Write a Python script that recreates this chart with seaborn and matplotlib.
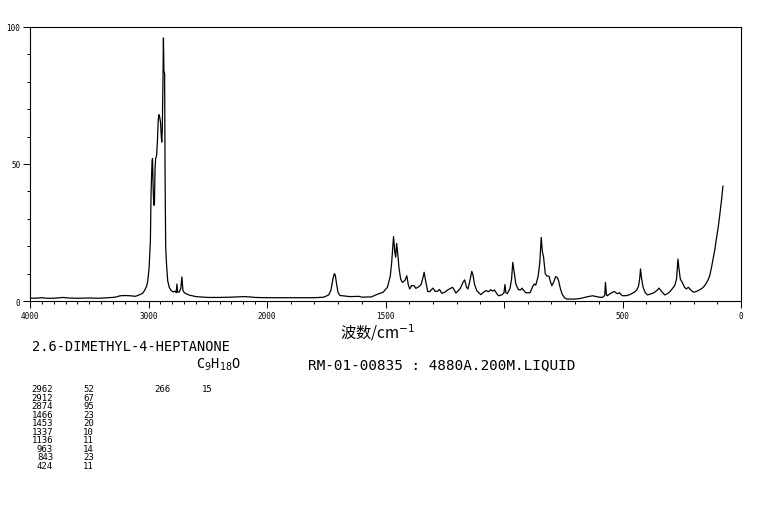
import numpy as np
import pandas as pd
import matplotlib
matplotlib.use("Agg")
import matplotlib.pyplot as plt
import seaborn as sns

# Raman spectrum (cm-1, relative intensity)
wavenumber = [4000, 3960, 3900, 3860, 3800, 3720, 3680, 3600, 3500, 3420, 3340, 3280, 3240, 3200, 3150,
              3110, 3080, 3050, 3034, 3015, 3006, 2995, 2988, 2984, 2978, 2970, 2966, 2960, 2955, 2950,
              2945, 2940, 2932, 2925, 2918, 2912, 2905, 2898, 2892, 2888, 2884, 2878, 2874, 2870, 2864,
              2860, 2855, 2848, 2838, 2825, 2809, 2790, 2775, 2766, 2760, 2754, 2740, 2728, 2718, 2710,
              2698, 2680, 2660, 2640, 2600, 2500, 2400, 2300, 2200, 2150, 2100, 2000, 1900, 1800, 1760,
              1740, 1730, 1722, 1716, 1712, 1706, 1700, 1692, 1680, 1650, 1612, 1600, 1560, 1530, 1510,
              1492, 1480, 1474, 1466, 1461, 1457, 1453, 1448, 1443, 1436, 1429, 1418, 1410, 1404, 1398,
              1390, 1380, 1372, 1360, 1350, 1342, 1337, 1330, 1322, 1314, 1300, 1290, 1280, 1272, 1262,
              1250, 1240, 1228, 1217, 1210, 1203, 1185, 1172, 1166, 1158, 1152, 1145, 1136, 1131, 1124,
              1115, 1098, 1085, 1076, 1065, 1056, 1048, 1040, 1030, 1022, 1008, 1000, 996, 992, 986,
              975, 968, 963, 958, 950, 940, 930, 924, 916, 908, 890, 878, 872, 866, 856,
              849, 843, 838, 833, 826, 820, 810, 804, 798, 790, 782, 776, 770, 762, 755,
              745, 735, 700, 680, 660, 640, 625, 605, 585, 575, 572, 568, 565, 550, 535,
              525, 520, 512, 505, 498, 480, 465, 450, 440, 432, 427, 424, 419, 413, 405,
              395, 380, 370, 355, 346, 338, 330, 322, 310, 300, 290, 280, 272, 266, 262,
              256, 248, 238, 231, 222, 212, 200, 188, 174, 162, 153, 140, 132, 125, 118,
              110, 104, 96, 90, 82, 76]
intensity = [1.1, 1.0, 1.2, 1.0, 1.0, 1.3, 1.1, 1.0, 1.1, 1.0, 1.2, 1.4, 1.9, 2.0, 1.9,
             1.7, 2.2, 2.8, 3.8, 5.5, 7.4, 12, 18, 22, 40, 51, 52, 40, 35, 35,
             48, 52, 53, 58, 66, 68, 67, 65, 60, 58, 62, 80, 96, 84, 83,
             45, 20, 13.5, 7.4, 5, 3.8, 3.3, 3.6, 3.0, 6.2, 3.2, 3.3, 4.5, 8.8, 4.0,
             3.0, 2.6, 2.2, 2.0, 1.6, 1.3, 1.3, 1.4, 1.6, 1.5, 1.3, 1.2, 1.2, 1.2, 1.4,
             2.2, 4, 8, 10, 9.5, 6, 3, 2.0, 1.9, 1.6, 1.7, 1.4, 1.5, 2.6, 3.2,
             5, 9, 14, 23.5, 18, 16, 21, 17, 12, 8, 6.8, 7.5, 9.2, 6, 4.4,
             5.6, 5.6, 4.6, 5.2, 6, 8.5, 10.5, 7, 3.5, 3.4, 4.7, 3.5, 3.6, 4.2, 2.8,
             3.2, 3.9, 4.5, 5.0, 4.0, 2.9, 4.5, 7, 7.7, 5, 4.4, 7, 10.8, 9.5, 6,
             3.8, 2.3, 3.3, 3.8, 3.4, 4.1, 3.6, 4.0, 2.6, 1.9, 2.3, 3, 6.0, 3, 2.7,
             4.5, 8, 14.1, 11, 6.2, 4.2, 4.0, 4.7, 3.8, 3.0, 3.0, 5.5, 6.2, 5.8, 9,
             14, 23.2, 18, 16, 10, 9.2, 9.0, 7, 5.6, 7, 8.9, 8.6, 7.5, 4.5, 2.6,
             1.2, 0.7, 0.7, 0.9, 1.3, 1.7, 1.9, 1.5, 1.3, 2.0, 6.8, 2.5, 1.9, 2.8, 3.5,
             2.8, 2.7, 3.0, 2.2, 1.9, 2.0, 2.5, 3.2, 4.0, 5.5, 8.5, 11.7, 8, 5.0, 3.2,
             2.2, 2.6, 2.9, 3.8, 4.7, 3.8, 3.0, 2.2, 2.7, 3.4, 4.5, 5.6, 8, 15.3, 12,
             8, 6.8, 5, 4.4, 5.0, 4, 3.2, 3.5, 4.1, 4.8, 5.6, 7.5, 9.2, 12, 15.3,
             19, 22.6, 27, 31.1, 37, 42]

# peak table printed under the chart
peak_wn = [2962, 2912, 2874, 1466, 1453, 1337, 1136, 963, 843, 424, 266]
peak_int = [52, 67, 95, 23, 20, 10, 11, 14, 23, 11, 15]

compound = "2.6-DIMETHYL-4-HEPTANONE"
formula = "C$_9$H$_{18}$O"
sample_info = "RM-01-00835 : 4880A.200M.LIQUID"
xlabel = "波数/cm$^{-1}$"

xticks_major = [4000, 3000, 2000, 1500, 1000, 500, 0]
xtick_labels = ["4000", "3000", "2000", "1500", "", "500", "0"]
yticks_major = [0, 50, 100]

df = pd.DataFrame({"wavenumber": wavenumber, "intensity": intensity})

sns.set_style("ticks")
plt.rcParams["font.family"] = ["DejaVu Sans Mono", "Noto Sans CJK SC"]
plt.rcParams["text.color"] = "black"
plt.rcParams["axes.labelcolor"] = "black"
plt.rcParams["xtick.color"] = "black"
plt.rcParams["ytick.color"] = "black"

W, H = 765, 510
fig = plt.figure(figsize=(W / 100, H / 100), dpi=100)
ax = fig.add_axes([30 / W, 1 - 302 / H, 711 / W, 274 / H])


# above 2000 cm-1 the axis is compressed by half
def fwd(w):
    w = np.asarray(w, dtype=float)
    return np.where(w > 2000, 2000 + (w - 2000) / 2, w)


def inv(u):
    u = np.asarray(u, dtype=float)
    return np.where(u > 2000, 2000 + (u - 2000) * 2, u)


ax.set_xscale("function", functions=(fwd, inv))
sns.lineplot(data=df, x="wavenumber", y="intensity", sort=False, estimator=None,
             color="black", linewidth=0.9, ax=ax)
ax.set_xlim(4000, 0)
ax.set_ylim(0, 100)

ax.set_xticks(xticks_major)
ax.set_xticklabels(xtick_labels)
ax.set_xticks(np.arange(0, 4001, 100), minor=True)
ax.set_yticks(yticks_major)
ax.set_yticks(np.arange(0, 101, 10), minor=True)
ax.tick_params(which="major", length=5, width=0.7, labelsize=5.5, pad=2, color="black")
ax.tick_params(which="minor", length=2.2, width=0.7, color="black")
for s in ax.spines.values():
    s.set_linewidth(0.8)
    s.set_color("black")

ax.set_ylabel("")
ax.set_xlabel(xlabel, fontsize=11, family=["Noto Sans CJK SC", "DejaVu Sans"], va="top")
ax.xaxis.set_label_coords((378 - 30) / 711, -(322 - 302) / 274)

# header lines
fig.text(32 / W, 1 - 347 / H, compound, fontsize=9.8, ha="left", va="center")
fig.text(196 / W, 1 - 365 / H, formula, fontsize=9.8, ha="left", va="center")
fig.text(308 / W, 1 - 365 / H, sample_info, fontsize=10.4, ha="left", va="center")

# peak list, ten rows per column
for i, (wn, it) in enumerate(zip(peak_wn, peak_int)):
    col, row = divmod(i, 10)
    y = 1 - (390 + row * 8.45) / H
    x0 = 53 + col * 117
    fig.text(x0 / W, y, str(wn), fontsize=6.5, ha="right", va="center")
    fig.text((x0 + 30 + col * 2) / W, y, str(it), fontsize=6.5, ha="left", va="center")

fig.savefig("out.png", dpi=100, facecolor="white")
